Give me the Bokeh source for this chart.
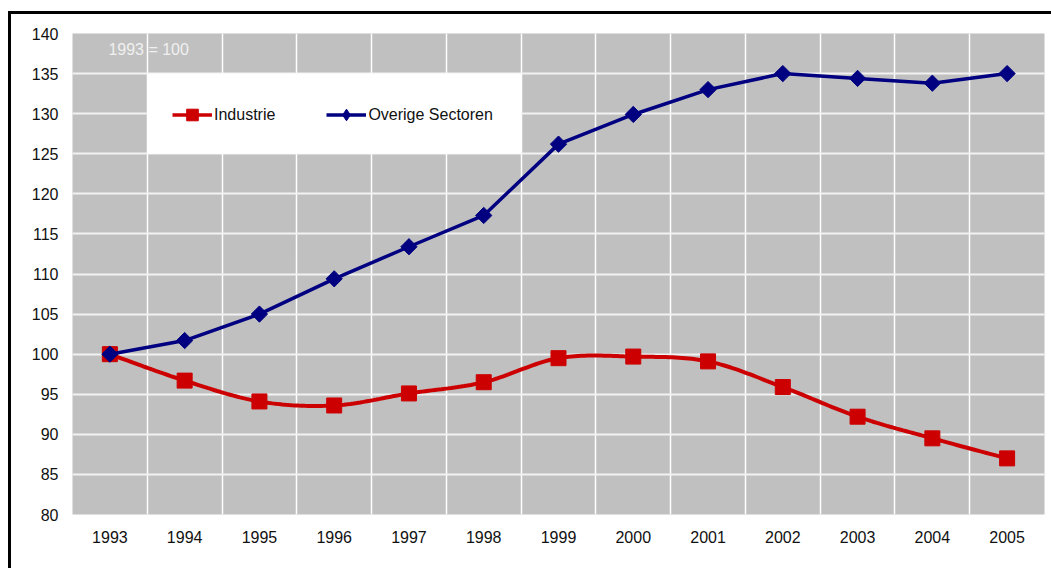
import numpy as np
from bokeh.plotting import figure
from bokeh.models import (FixedTicker, Legend, LegendItem, Label, BoxAnnotation,
                          Range1d, InlineStyleSheet)
from bokeh.embed import file_html
from bokeh.resources import INLINE

years = ["1993", "1994", "1995", "1996", "1997", "1998", "1999",
         "2000", "2001", "2002", "2003", "2004", "2005"]
industrie = [100.0, 96.7, 94.1, 93.6, 95.1, 96.5, 99.5, 99.7, 99.1, 95.9, 92.2, 89.5, 87.0]
overige = [100.0, 101.7, 105.0, 109.4, 113.4, 117.3, 126.2, 129.9, 133.0, 135.0, 134.4, 133.8, 135.0]
y_ticks = [80, 85, 90, 95, 100, 105, 110, 115, 120, 125, 130, 135, 140]

FONT = "Liberation Sans"
RED = "#CC0000"
NAVY = "#000080"

xc = [i + 0.5 for i in range(len(years))]


def smooth(xs, ys, n=24):
    xs = np.asarray(xs, float)
    ys = np.asarray(ys, float)
    px = np.concatenate([[xs[0]], xs, [xs[-1]]])
    py = np.concatenate([[ys[0]], ys, [ys[-1]]])
    ox, oy = [], []
    t = np.linspace(0, 1, n)
    for i in range(len(xs) - 1):
        p0 = np.array([px[i + 1], py[i + 1]])
        p3 = np.array([px[i + 2], py[i + 2]])
        p1 = p0 + (p3 - np.array([px[i], py[i]])) / 6.0
        p2 = p3 - (np.array([px[i + 3], py[i + 3]]) - p0) / 6.0
        b = ((1 - t) ** 3)[:, None] * p0 + (3 * (1 - t) ** 2 * t)[:, None] * p1 \
            + (3 * (1 - t) * t ** 2)[:, None] * p2 + (t ** 3)[:, None] * p3
        ox.extend(b[:, 0].tolist())
        oy.extend(b[:, 1].tolist())
    return ox, oy


sx, sy = smooth(xc, industrie)

p = figure(width=1051, height=568, output_backend="svg", toolbar_location=None,
           x_range=Range1d(0, len(years)), y_range=Range1d(80, 140),
           min_border_left=72, min_border_right=7, min_border_top=33,
           min_border_bottom=54)
p.background_fill_color = "#C0C0C0"
p.border_fill_color = "white"
p.outline_line_color = None

# outer black border of the chart (top and left visible)
p.stylesheets = [InlineStyleSheet(css=(
    ":host{position:relative;}"
    ":host::after{content:'';position:absolute;left:8px;top:11px;right:0;bottom:0;"
    "border-left:3px solid #000;border-top:3px solid #000;pointer-events:none;}"))]

# grids
p.xgrid.ticker = FixedTicker(ticks=list(range(1, len(years))))
p.xgrid.grid_line_color = "white"
p.xgrid.grid_line_width = 1.5
p.ygrid.ticker = FixedTicker(ticks=y_ticks)
p.ygrid.grid_line_color = "#F2F2F2"
p.ygrid.grid_line_width = 2

# axes
p.xaxis.ticker = FixedTicker(ticks=xc)
p.xaxis.major_label_overrides = {x: y for x, y in zip(xc, years)}
p.yaxis.ticker = FixedTicker(ticks=y_ticks)
for ax in (p.xaxis[0], p.yaxis[0]):
    ax.axis_line_color = None
    ax.major_tick_line_color = None
    ax.minor_tick_line_color = None
    ax.major_tick_out = 0
    ax.major_tick_in = 0
    ax.major_label_text_font = FONT
    ax.major_label_text_font_size = "16px"
    ax.major_label_text_color = "#111111"
p.xaxis.major_label_standoff = 16
p.yaxis.major_label_standoff = 14

# white legend panel
p.add_layout(BoxAnnotation(left=1, right=6, bottom=125, top=135,
                           fill_color="white", fill_alpha=1, line_color=None))

# series
red_line = p.line(sx, sy, line_color=RED, line_width=4)
red_pts = p.scatter(xc, industrie, marker="square", size=15, fill_color=RED,
                    line_color=RED)
navy_line = p.line(xc, overige, line_color=NAVY, line_width=3.5)
navy_pts = p.scatter(xc, overige, marker="square", angle=np.pi / 4, size=11.5,
                     fill_color=NAVY, line_color=NAVY)

# legend-only glyphs (smaller markers like the original legend); NaN data draws nothing
nan = [float("nan")]
lg_red_line = p.line(nan, nan, line_color=RED, line_width=3.5)
lg_red_pt = p.scatter(nan, nan, marker="square", size=10, fill_color=RED, line_color=RED)
lg_navy_line = p.line(nan, nan, line_color=NAVY, line_width=3.5)
lg_navy_pt = p.scatter(nan, nan, marker="diamond", size=11,
                       fill_color=NAVY, line_color=NAVY)

legend = Legend(items=[LegendItem(label="Industrie", renderers=[lg_red_line, lg_red_pt]),
                       LegendItem(label="Overige Sectoren", renderers=[lg_navy_line, lg_navy_pt])],
                orientation="horizontal", location=(100, 385),
                background_fill_alpha=0, border_line_color=None,
                padding=0, spacing=51, margin=0,
                glyph_width=40, glyph_height=29, label_height=29, label_standoff=2,
                label_text_font=FONT, label_text_font_size="16px",
                label_text_color="#111111")
p.add_layout(legend, "center")

p.add_layout(Label(x=0.48, y=138.0, text="1993 = 100", text_font=FONT,
                   text_font_size="16px", text_color="#F0F0F0",
                   text_baseline="middle"))

open("out.html", "w").write(file_html(p, INLINE))
